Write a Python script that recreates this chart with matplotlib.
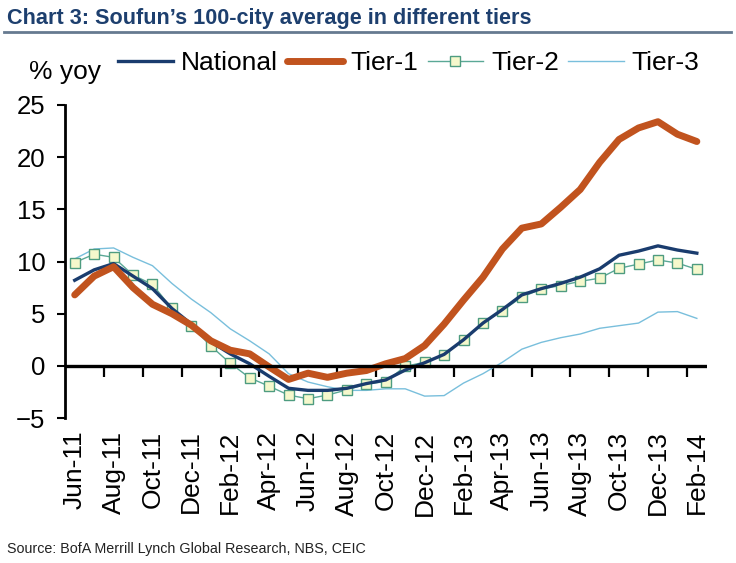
import matplotlib
matplotlib.use('agg')
import matplotlib.pyplot as plt
from matplotlib import font_manager
from matplotlib.lines import Line2D
import numpy as np

months = ['Jun-11', 'Jul-11', 'Aug-11', 'Sep-11', 'Oct-11', 'Nov-11', 'Dec-11',
          'Jan-12', 'Feb-12', 'Mar-12', 'Apr-12', 'May-12', 'Jun-12', 'Jul-12',
          'Aug-12', 'Sep-12', 'Oct-12', 'Nov-12', 'Dec-12', 'Jan-13', 'Feb-13',
          'Mar-13', 'Apr-13', 'May-13', 'Jun-13', 'Jul-13', 'Aug-13', 'Sep-13',
          'Oct-13', 'Nov-13', 'Dec-13', 'Jan-14', 'Feb-14']

national = [8.2, 9.2, 9.8, 8.6, 7.4, 5.5, 4.0, 2.3, 1.15, 0.2, -1.0, -2.15, -2.35,
            -2.35, -2.15, -1.7, -1.35, -0.4, 0.3, 1.1, 2.5, 4.1, 5.4, 6.8, 7.4,
            7.9, 8.5, 9.3, 10.6, 11.0, 11.5, 11.1, 10.8]
tier1 = [6.8, 8.6, 9.5, 7.5, 5.9, 5.0, 3.9, 2.4, 1.5, 1.15, -0.1, -1.3, -0.7,
         -1.1, -0.7, -0.45, 0.2, 0.7, 1.95, 4.0, 6.3, 8.5, 11.2, 13.2, 13.6,
         15.2, 16.9, 19.5, 21.7, 22.8, 23.4, 22.2, 21.5]
tier2 = [9.9, 10.7, 10.4, 8.7, 7.8, 5.5, 3.8, 1.9, 0.25, -1.15, -1.95, -2.8,
         -3.15, -2.8, -2.3, -1.75, -1.5, -0.05, 0.35, 1.05, 2.5, 4.1, 5.3, 6.6,
         7.35, 7.7, 8.1, 8.4, 9.35, 9.75, 10.15, 9.85, 9.25]
tier3 = [10.25, 11.2, 11.3, 10.4, 9.6, 7.9, 6.4, 5.1, 3.55, 2.4, 1.15, -0.75,
         -1.55, -2.0, -2.35, -2.35, -2.2, -2.2, -2.9, -2.85, -1.65, -0.75, 0.35,
         1.6, 2.25, 2.7, 3.05, 3.6, 3.85, 4.1, 5.15, 5.2, 4.55]

yticks = [-5, 0, 5, 10, 15, 20, 25]

names = [f.name for f in font_manager.fontManager.ttflist]
narrow = 'Liberation Sans Narrow' if 'Liberation Sans Narrow' in names else 'Liberation Sans'

plt.rcParams['font.family'] = ['Liberation Sans', 'DejaVu Sans']

fig = plt.figure(figsize=(7.36, 5.63), dpi=100)
ax = fig.add_axes([0.0883, 0.2575, 0.8717, 0.556])

x = np.arange(len(months))
ax.plot(x, tier3, color='#79bfdc', lw=1.0, label='Tier-3', zorder=2)
ax.plot(x, tier2, color='#5aa896', lw=1.0, marker='s', ms=7,
        mfc='#f5f8cc', mec='#4e9c80', mew=1.0, label='Tier-2', zorder=3)
ax.plot(x, national, color='#1a3c6e', lw=2.4, label='National', zorder=4)
ax.plot(x, tier1, color='#c1531e', lw=5.0, solid_capstyle='round',
        label='Tier-1', zorder=5)

ax.axhline(0, color='black', lw=2.4, zorder=6)

ax.set_xlim(-0.5, len(months) - 0.5)
ax.set_ylim(-5, 25)
ax.set_yticks(yticks)
ax.set_xticks(x[::2])
ax.set_xticklabels(months[::2], rotation=90, fontsize=19)
ax.tick_params(axis='x', length=0, pad=9)
ax.tick_params(axis='y', direction='out', length=6, width=1.5, pad=8,
               labelsize=18.5)
for s in ['top', 'right', 'bottom']:
    ax.spines[s].set_visible(False)
ax.spines['left'].set_linewidth(2)

# tick marks sitting on the zero line
sec = ax.secondary_xaxis(5 / 30)
sec.set_xticks(x[1:-1:2] + 0.5)
sec.set_xticklabels([])
sec.tick_params(direction='out', length=8, width=1.6)
sec.spines['bottom'].set_visible(False)

handles, labels = ax.get_legend_handles_labels()
order = [2, 3, 1, 0]
fig.legend([handles[i] for i in order], [labels[i] for i in order],
           loc='center left', bbox_to_anchor=(0.16, 0.888), ncol=4,
           frameon=False, fontsize=19, handlelength=2.1, handletextpad=0.3,
           columnspacing=0.35, borderaxespad=0, borderpad=0)
fig.text(0.039, 0.872, '% yoy', fontsize=19, va='center', ha='left')

fig.text(0.01, 0.967, 'Chart 3: Soufun\u2019s 100-city average in different tiers',
         family=narrow, weight='bold', fontsize=15.6, color='#1d3f6e',
         va='center', ha='left')
fig.add_artist(Line2D([0.005, 0.993], [0.944, 0.944], color='#667a90', lw=2))
fig.text(0.01, 0.025, 'Source: BofA Merrill Lynch Global Research, NBS, CEIC',
         family=narrow, fontsize=10.3, color='#222222', va='center', ha='left')

fig.savefig('out.png', dpi=100)
